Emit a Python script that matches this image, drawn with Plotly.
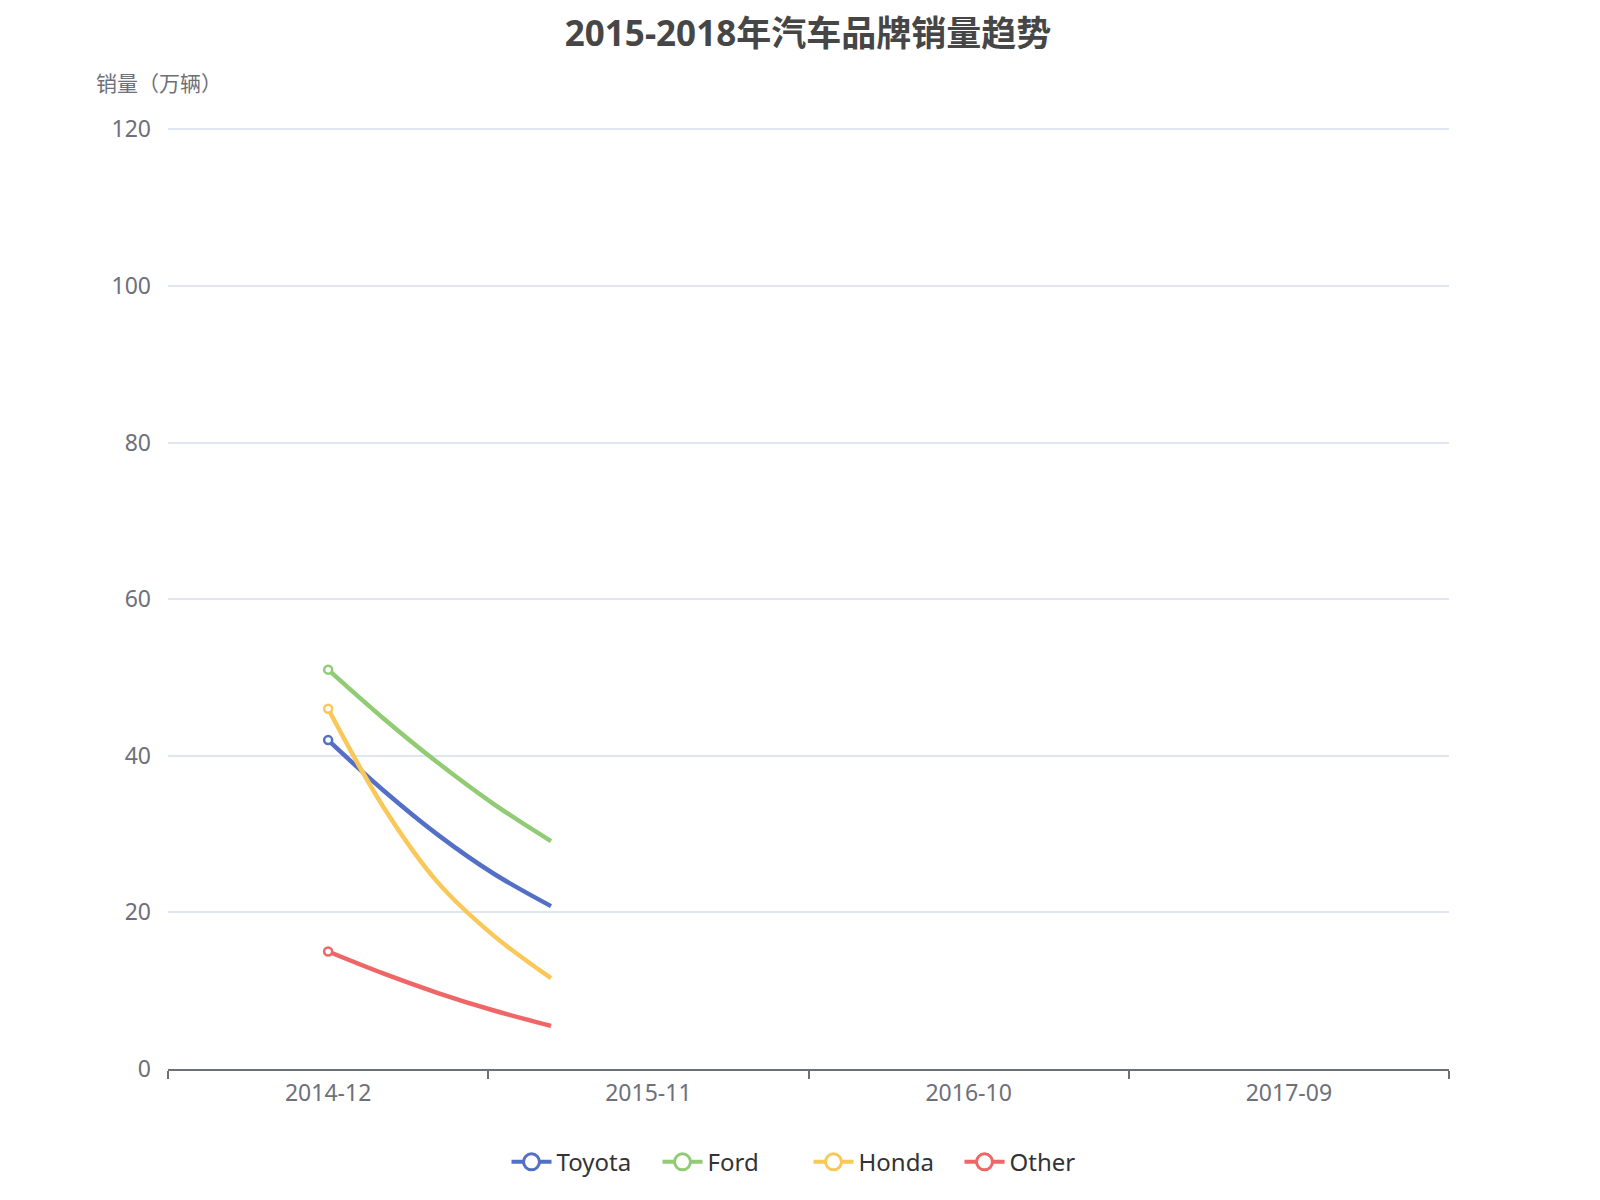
import plotly.graph_objects as go

# Category axis labels
categories = ['2014-12', '2015-11', '2016-10', '2017-09']

# Visible part of each series (position in category units, values in 万辆)
steps = [0, 0.172, 0.343, 0.515, 0.696]
toyota = [42, 35.6, 29.9, 25.0, 20.8]
ford = [51, 44.8, 39.1, 33.9, 29.1]
honda = [46, 33.5, 23.8, 17.1, 11.6]
other = [15, 12.2, 9.7, 7.5, 5.5]

series_names = ['Toyota', 'Ford', 'Honda', 'Other']
series_values = [toyota, ford, honda, other]
palette = ['#5470C6', '#91CC75', '#FAC858', '#EE6666']

y_ticks = [0, 20, 40, 60, 80, 100, 120]

font_family = 'Noto Sans, Noto Sans CJK SC, sans-serif'
axis_color = '#6E7079'
grid_color = '#E0E6F1'

fig = go.Figure()

for name, values, color in zip(series_names, series_values, palette):
    # the curve itself
    fig.add_trace(go.Scatter(
        x=steps, y=values, mode='lines',
        line=dict(color=color, width=4.5, shape='spline', smoothing=1),
        legendgroup=name, showlegend=False, hoverinfo='skip'))
    # hollow marker on the first point
    fig.add_trace(go.Scatter(
        x=steps[:1], y=values[:1], mode='markers', xaxis='x2',
        marker=dict(symbol='circle', size=8, color='white',
                    line=dict(color=color, width=2.5)),
        legendgroup=name, showlegend=False))
    # legend entry only
    fig.add_trace(go.Scatter(
        x=[None], y=[None], mode='lines+markers', name=name, xaxis='x2',
        line=dict(color=color, width=4),
        marker=dict(symbol='circle', size=16, color='white',
                    line=dict(color=color, width=3)),
        legendgroup=name))

fig.update_layout(
    width=1600, height=1200,
    paper_bgcolor='white', plot_bgcolor='white',
    margin=dict(l=160, r=159, t=119, b=139),
    font=dict(family=font_family, color=axis_color),
    title=dict(text='<b>2015-2018年汽车品牌销量趋势</b>',
               x=0.5, xanchor='center', y=1 - 26 / 1200, yanchor='middle',
               font=dict(size=35, color='#464646', family=font_family)),
    xaxis=dict(range=[-0.5, 3.5], tickmode='array',
               tickvals=[-0.5, 0.5, 1.5, 2.5, 3.5],
               showticklabels=False, ticks='outside', ticklen=8,
               tickwidth=2, tickcolor=axis_color,
               showline=True, linecolor=axis_color, linewidth=2,
               showgrid=False, zeroline=False, fixedrange=True),
    xaxis2=dict(overlaying='x', anchor='y', side='bottom',
                range=[-0.5, 3.5], tickmode='array',
                tickvals=list(range(len(categories))), ticktext=categories,
                ticks='', ticklabelstandoff=8,
                tickfont=dict(size=23, color=axis_color),
                showline=False, showgrid=False, zeroline=False),
    yaxis=dict(range=[0, 120.3], tickmode='array', tickvals=y_ticks,
               tickfont=dict(size=23, color=axis_color),
               ticklabelstandoff=16,
               showgrid=True, gridcolor=grid_color, gridwidth=1.5,
               zeroline=False, showline=False),
    legend=dict(orientation='h', x=0.5, xanchor='center',
                y=-0.099, yanchor='middle',
                font=dict(size=24, color='#333333'),
                itemwidth=40, entrywidth=96),
    annotations=[dict(text='销量（万辆）', xref='paper', yref='paper',
                      x=(151 - 160) / 1281, y=1 + (119 - 75) / 942,
                      xanchor='center', yanchor='middle', showarrow=False,
                      font=dict(size=21, color=axis_color))],
)

fig.write_html('out.html')
